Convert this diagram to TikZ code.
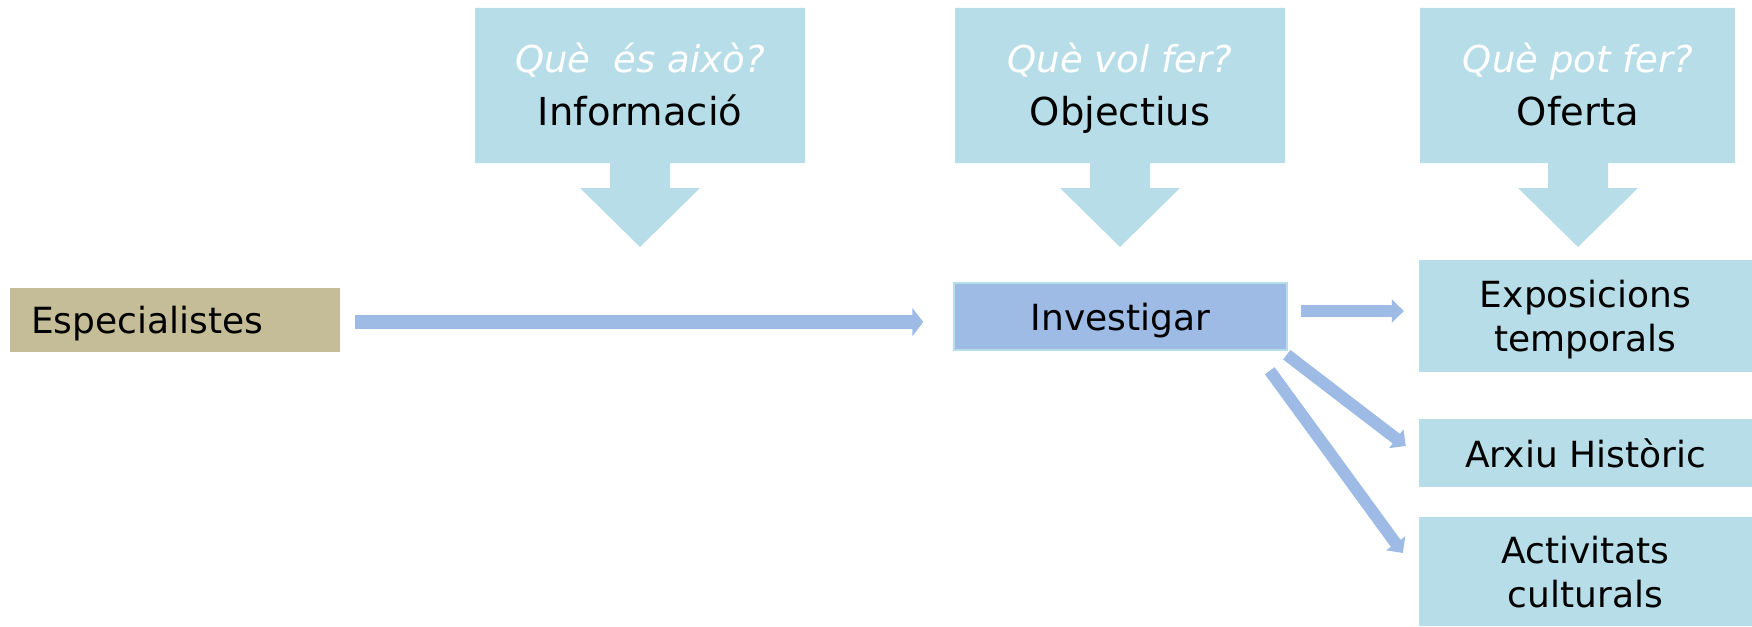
\documentclass[tikz,border=0pt]{standalone}
\usepackage{fontspec}
\setmainfont{DejaVu Sans}
\usetikzlibrary{arrows.meta,calc}
\definecolor{callblue}{HTML}{B7DEE8}
\definecolor{invblue}{HTML}{9DBBE5}
\definecolor{tanbox}{HTML}{C4BD97}
\begin{document}
\begin{tikzpicture}[x=1pt,y=-1pt,
  calloutshape/.style={fill=callblue},
  qtext/.style={font=\fontsize{37}{42}\selectfont\itshape, text=white, anchor=base, inner sep=0pt},
  wtext/.style={font=\fontsize{38.5}{44}\selectfont, text=black, anchor=base, inner sep=0pt},
  boxtext/.style={font=\fontsize{36}{44}\selectfont, align=center, inner sep=0pt, text=black, text depth=0pt},
  offerbox/.style={boxtext, fill=callblue, minimum width=333pt},
  arrbig/.style={draw=invblue, line width=14pt, -{Triangle[length=11pt,width=28pt]}},
  arrsmall/.style={draw=invblue, line width=12pt, -{Triangle[length=12pt,width=23pt]}}
]
\useasboundingbox (0,0) rectangle (1752,626);

% callouts
\fill[calloutshape] (475,8) -- (805,8) -- (805,163) -- (670,163) -- (670,188) -- (700,188)
  -- (640,247) -- (580,188) -- (610,188) -- (610,163) -- (475,163) -- cycle;
\fill[calloutshape] (955,8) -- (1285,8) -- (1285,163) -- (1150,163) -- (1150,188) -- (1180,188)
  -- (1120,247) -- (1060,188) -- (1090,188) -- (1090,163) -- (955,163) -- cycle;
\fill[calloutshape] (1420,8) -- (1735,8) -- (1735,163) -- (1608,163) -- (1608,188) -- (1638,188)
  -- (1578,247) -- (1518,188) -- (1548,188) -- (1548,163) -- (1420,163) -- cycle;

\node[qtext] (q1) at (640,72) {Què\ \ és això?};
\node[wtext] (w1) at (640,125) {Informació};
\node[qtext] (q2) at (1120,72) {Què vol fer?};
\node[wtext] (w2) at (1120,125) {Objectius};
\node[qtext] (q3) at (1578,72) {Què pot fer?};
\node[wtext] (w3) at (1578,125) {Oferta};

% main boxes
\node[boxtext, fill=tanbox, align=left, text width=288pt, inner xsep=21pt, minimum height=64pt]
  (spec) at (175,320) {Especialistes};
\node[boxtext, fill=invblue, draw=callblue, line width=1.5pt, minimum width=333pt, minimum height=67pt]
  (inv) at (1120.5,316.5) {Investigar};

\node[offerbox, minimum height=112pt] (expo) at (1585.5,316) {Exposicions\\temporals};
\node[offerbox, minimum height=68pt] (arxiu) at (1585.5,453) {Arxiu Històric};
\node[offerbox, minimum height=109pt] (act) at (1585.5,571.5) {Activitats\\culturals};

% connectors
\draw[arrbig] ($(spec.east)+(15,2)$) -- ($(inv.west)+(-30,5.5)$);
\draw[arrsmall] ($(inv.east)+(13,-5.5)$) -- ($(expo.west)+(-15,-5)$);
\draw[arrsmall] ($(inv.south east)+(-1,4)$) -- ($(arxiu.west)+(-13,-7)$);
\draw[arrsmall] ($(inv.south east)+(-18,20)$) -- ($(act.west)+(-16,-18.5)$);
\end{tikzpicture}
\end{document}
